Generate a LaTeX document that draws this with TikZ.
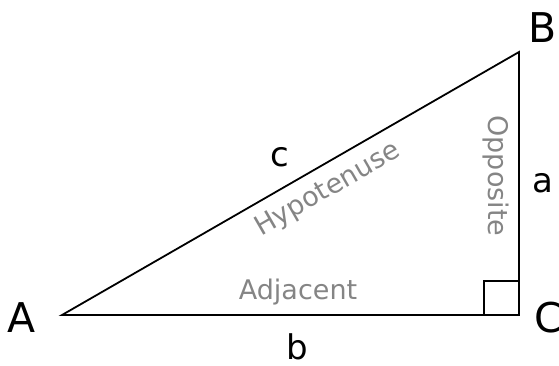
\documentclass[tikz,border=0pt]{standalone}
\usepackage{fontspec}
\setmainfont{DejaVu Sans}

\begin{document}
\begin{tikzpicture}[x=1pt,y=-1pt,
    vertex/.style={font=\fontsize{41}{48}\selectfont,inner sep=0pt},
    side/.style={font=\fontsize{34}{40}\selectfont,inner sep=0pt},
    sidename/.style={font=\fontsize{27}{32}\selectfont,text=black!48,inner sep=0pt}]
  \useasboundingbox (0,0) rectangle (559,365);
  % corners of the triangle
  \coordinate (a) at (62,315);
  \coordinate (b) at (519,52);
  \coordinate (c) at (519,315);
  \draw[line width=1.8pt] (a)--(b)--(c)--cycle;
  % right angle at C
  \draw[line width=1.8pt] (c) ++(-35,0) |- ++(35,-34);
  % vertex letters
  \node[vertex] (nameA) at (22,318) {A};
  \node[vertex] (nameB) at (543,28) {B};
  \node[vertex] (nameC) at (549,318) {C};
  % side letters
  \node[side] (sidec) at (280,157) {c};
  \node[side] (sidea) at (543,183) {a};
  \node[side] (sideb) at (297,347) {b};
  % names of the sides
  \node[sidename,rotate=30] (hyp) at (328,190) {Hypotenuse};
  \node[sidename,rotate=-90] (opp) at (496,176) {Opposite};
  \node[sidename,anchor=base] (adj) at (298,299) {Adjacent};
\end{tikzpicture}
\end{document}
